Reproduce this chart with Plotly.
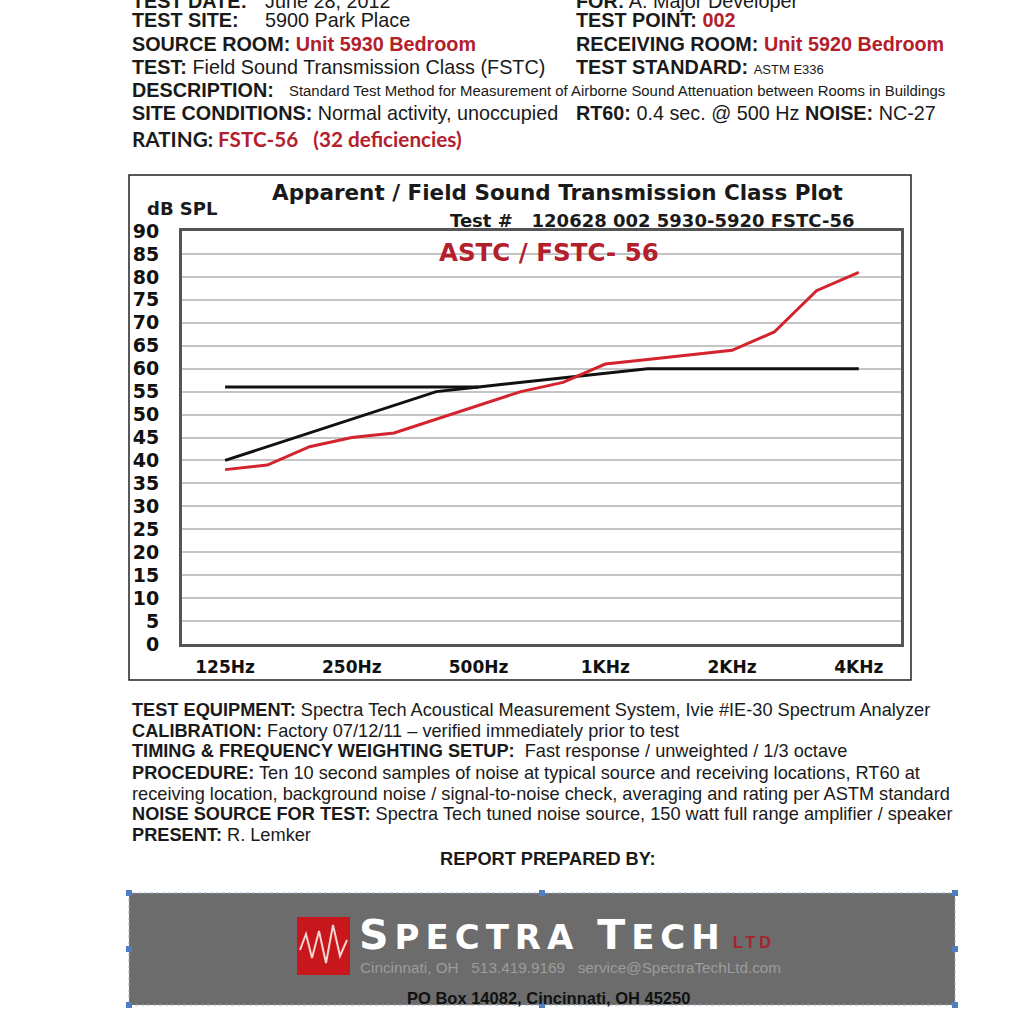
import plotly.graph_objects as go

# ---------------- data ----------------
bands = ["125Hz", "160Hz", "200Hz", "250Hz", "315Hz", "400Hz", "500Hz", "630Hz",
         "800Hz", "1KHz", "1.25KHz", "1.6KHz", "2KHz", "2.5KHz", "3.15KHz", "4KHz"]
tick_labels = ["125Hz", "250Hz", "500Hz", "1KHz", "2KHz", "4KHz"]
measured_tl = [38, 39, 43, 45, 46, 49, 52, 55, 57, 61, 62, 63, 64, 68, 77, 81]
fstc_contour = [40, 43, 46, 49, 52, 55, 56, 57, 58, 59, 60, 60, 60, 60, 60, 60]
level_bands = ["125Hz", "160Hz", "200Hz", "250Hz", "315Hz", "400Hz", "500Hz"]
level_500 = [56, 56, 56, 56, 56, 56, 56]
y_ticks = [0, 5, 10, 15, 20, 25, 30, 35, 40, 45, 50, 55, 60, 65, 70, 75, 80, 85, 90]

RED = "#b3202c"
W = 1024


def px(x):
    return x / W


def py(y):
    return 1 - y / W


fig = go.Figure()
fig.add_trace(go.Scatter(x=level_bands, y=level_500, mode="lines",
                         line=dict(color="#111111", width=3), hoverinfo="skip"))
fig.add_trace(go.Scatter(x=bands, y=fstc_contour, mode="lines",
                         line=dict(color="#111111", width=3), hoverinfo="skip"))
fig.add_trace(go.Scatter(x=bands, y=measured_tl, mode="lines",
                         line=dict(color="#d3232e", width=3), hoverinfo="skip"))

fig.update_layout(
    width=W, height=W, margin=dict(l=0, r=0, t=0, b=0, autoexpand=False),
    paper_bgcolor="white", plot_bgcolor="white", showlegend=False,
    xaxis=dict(domain=[px(182), px(901)], type="category", categoryarray=bands,
               range=[-1.02, 16.0], tickmode="array", tickvals=tick_labels,
               ticktext=tick_labels, showgrid=False, showline=True, mirror=True,
               linecolor="#555555", linewidth=3, ticks="", automargin=False,
               tickfont=dict(family="DejaVu Sans", size=17, color="#111111", weight="bold"),
               ticklabelstandoff=6, zeroline=False),
    yaxis=dict(domain=[py(644), py(231)], range=[0, 90], tickmode="array",
               tickvals=y_ticks, showgrid=True, gridcolor="#c4c4c4", gridwidth=2,
               showline=True, mirror=True, linecolor="#555555", linewidth=3,
               ticks="", automargin=False,
               tickfont=dict(family="DejaVu Sans", size=19, color="#111111", weight="bold"),
               ticklabelstandoff=16, zeroline=False),
)

shapes = []
# outer chart frame
shapes.append(dict(type="rect", xref="paper", yref="paper", x0=px(129), x1=px(911),
                   y0=py(680), y1=py(175), line=dict(color="#222222", width=1.5)))
# banner
shapes.append(dict(type="rect", xref="paper", yref="paper", x0=px(129), x1=px(955),
                   y0=py(1005), y1=py(893), fillcolor="#6c6c6c",
                   line=dict(color="#9fb3cc", width=1, dash="dot")))
for hx, hy in [(129, 893), (542, 893), (955, 893), (129, 949), (955, 949),
               (129, 1005), (542, 1005), (955, 1005)]:
    shapes.append(dict(type="rect", xref="paper", yref="paper", x0=px(hx - 3), x1=px(hx + 3),
                       y0=py(hy + 3), y1=py(hy - 3), fillcolor="#4f7fbf",
                       line=dict(width=0)))
# logo red square
shapes.append(dict(type="rect", xref="paper", yref="paper", x0=px(297), x1=px(350),
                   y0=py(975), y1=py(917), fillcolor="#c8161d", line=dict(width=0)))
zig = [(300, 950), (306, 934), (312, 958), (319, 931), (326, 963), (333, 925),
       (340, 956), (347, 940)]
path = "M " + " L ".join(f"{px(a)},{py(b)}" for a, b in zig)
shapes.append(dict(type="path", xref="paper", yref="paper", path=path,
                   line=dict(color="#f3d6d0", width=2)))
fig.update_layout(shapes=shapes)

ann = []


def text(x, y, s, size=19.8, family="Liberation Sans", color="#1a1a1a", anchor="left"):
    ann.append(dict(xref="paper", yref="paper", x=px(x), y=py(y), text=s, showarrow=False,
                    xanchor=anchor, yanchor="middle",
                    font=dict(family=family, size=size, color=color)))


def red(s):
    return f"<span style='color:{RED}'>{s}</span>"


# header block
text(130, 1, "<b>TEST DATE:</b>")
text(263, 1, "June 28, 2012")
text(574, 1, "<b>FOR:</b> A. Major Developer")
text(130, 20, "<b>TEST SITE:</b>")
text(263, 20, "5900 Park Place")
text(574, 20, "<b>TEST POINT: " + red("002") + "</b>")
text(130, 44, "<b>SOURCE ROOM: " + red("Unit 5930 Bedroom") + "</b>")
text(574, 44, "<b>RECEIVING ROOM: " + red("Unit 5920 Bedroom") + "</b>")
text(130, 67, "<b>TEST:</b> Field Sound Transmission Class (FSTC)")
text(574, 67, "<b>TEST STANDARD:</b> <span style='font-size:13px'>ASTM E336</span>")
text(130, 90, "<b>DESCRIPTION:</b>")
text(287, 91, "Standard Test Method for Measurement of Airborne Sound Attenuation "
     "between Rooms in Buildings", size=14.9)
text(130, 113, "<b>SITE CONDITIONS:</b> Normal activity, unoccupied")
text(574, 113, "<b>RT60:</b> 0.4 sec. @ 500 Hz <b>NOISE:</b> NC-27")
text(130, 139, "<b>RATING: " + red("FSTC-56&nbsp;&nbsp;&nbsp;(32 deficiencies)") + "</b>",
     size=20.7, family="Lato")

# chart titles
CF = "DejaVu Sans"
text(557, 192, "<b>Apparent / Field Sound Transmission Class Plot</b>", size=21.5,
     family=CF, anchor="center")
text(145, 208, "<b>dB SPL</b>", size=18, family=CF)
text(448, 220, "<b>Test #&nbsp;&nbsp;&nbsp;120628 002 5930-5920 FSTC-56</b>", size=18, family=CF)
text(437, 252, "<b>ASTC / FSTC- 56</b>", size=24.5, family=CF, color=RED)

# footer block
NF = "Liberation Sans"
FS = 18.2
text(130, 710, "<b>TEST EQUIPMENT:</b> Spectra Tech Acoustical Measurement System, Ivie #IE-30 Spectrum Analyzer", size=FS, family=NF)
text(130, 731, "<b>CALIBRATION:</b> Factory 07/12/11 – verified immediately prior to test", size=FS, family=NF)
text(130, 751, "<b>TIMING &amp; FREQUENCY WEIGHTING SETUP:</b>  Fast response / unweighted / 1/3 octave", size=FS, family=NF)
text(130, 773, "<b>PROCEDURE:</b> Ten 10 second samples of noise at typical source and receiving locations, RT60 at", size=FS, family=NF)
text(130, 794, "receiving location, background noise / signal-to-noise check, averaging and rating per ASTM standard", size=FS, family=NF)
text(130, 814, "<b>NOISE SOURCE FOR TEST:</b> Spectra Tech tuned noise source, 150 watt full range amplifier / speaker", size=FS, family=NF)
text(130, 835, "<b>PRESENT:</b> R. Lemker", size=FS, family=NF)
text(548, 859, "<b>REPORT PREPARED BY:</b>", size=FS, family=NF, anchor="center")

# banner texts
LS = "letter-spacing:6px"
text(357, 935,
     f"<b><span style='{LS}'>S</span><span style='font-size:34px;{LS}'>PECTRA </span>"
     f"<span style='{LS}'>T</span><span style='font-size:34px;{LS}'>ECH</span></b>",
     size=41, family="DejaVu Sans", color="#ffffff")
text(731, 942, "<b><span style='letter-spacing:4px'>LTD</span></b>", size=16, color="#a8232d")
text(358, 967, "Cincinnati, OH   513.419.9169   service@SpectraTechLtd.com", size=15.3,
     color="#9c9c9c")
text(548, 998, "<b>PO Box 14082, Cincinnati, OH 45250</b>", size=16.5, color="#111111",
     anchor="center")

fig.update_layout(annotations=ann)
fig.write_html("out.html")
